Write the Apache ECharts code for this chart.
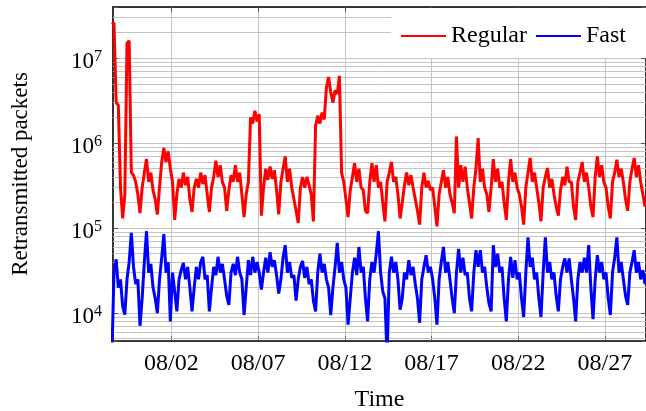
<!DOCTYPE html>
<html>
<head>
<meta charset="utf-8">
<script src="https://cdn.jsdelivr.net/npm/echarts@6/dist/echarts.min.js"></script>
<style>
html, body { margin: 0; padding: 0; background: #fff; }
#chart { width: 646px; height: 411px; }
</style>
</head>
<body>
<div id="chart"></div>
<script>
// samples every 3 hours, first one 07/29 13:30
var startTime = Date.UTC(2019, 6, 29, 13, 30)
var stepMs = 3 * 3600 * 1000

// Regular retransmissions (one row per day, 8 samples)
var regular = [
  2.5e7, 2.6e7, 3.0e6, 2.8e6,
  3.0e5, 1.3e5, 2.5e5, 1.5e7, 1.6e7, 4.5e5, 4.2e5, 3.5e5,
  2.5e5, 1.5e5, 3.0e5, 4.5e5, 6.5e5, 3.5e5, 4.5e5, 2.8e5,
  2.2e5, 1.45e5, 3.0e5, 6.0e5, 8.8e5, 6.0e5, 8.0e5, 5.0e5,
  3.5e5, 1.25e5, 2.5e5, 3.8e5, 3.0e5, 4.5e5, 3.2e5, 4.0e5,
  2.2e5, 1.55e5, 3.0e5, 3.8e5, 3.0e5, 4.5e5, 3.3e5, 4.2e5,
  2.5e5, 1.55e5, 3.0e5, 4.0e5, 6.2e5, 4.0e5, 5.5e5, 3.5e5,
  3.0e5, 1.6e5, 2.8e5, 4.2e5, 3.5e5, 5.5e5, 3.5e5, 4.5e5,
  2.5e5, 1.35e5, 2.5e5, 3.5e5, 2.0e6, 1.7e6, 2.4e6, 1.8e6,
  2.2e6, 1.4e5, 3.0e5, 5.0e5, 3.7e5, 5.3e5, 3.8e5, 4.8e5,
  2.8e5, 1.45e5, 3.5e5, 5.0e5, 7.0e5, 3.5e5, 5.0e5, 3.0e5,
  2.2e5, 1.6e5, 1.15e5, 3.0e5, 4.0e5, 3.0e5, 4.0e5, 3.2e5,
  2.5e5, 1.2e5, 1.6e6, 2.1e6, 1.7e6, 2.3e6, 1.9e6, 4.5e6,
  6.0e6, 4.0e6, 3.0e6, 4.2e6, 3.8e6, 6.2e6, 4.5e5, 3.5e5,
  2.2e5, 1.35e5, 2.8e5, 4.0e5, 5.8e5, 3.5e5, 5.0e5, 3.0e5,
  2.8e5, 1.6e5, 1.5e5, 3.5e5, 5.8e5, 3.5e5, 5.5e5, 3.0e5,
  3.5e5, 2.0e5, 1.2e5, 3.5e5, 4.5e5, 6.0e5, 3.5e5, 4.0e5,
  2.5e5, 1.3e5, 2.0e5, 3.2e5, 4.5e5, 3.2e5, 4.2e5, 3.0e5,
  2.2e5, 1.6e5, 1.1e5, 3.0e5, 4.5e5, 3.0e5, 3.6e5, 2.8e5,
  3.0e5, 1.8e5, 1.05e5, 2.5e5, 3.5e5, 4.8e5, 3.0e5, 4.0e5,
  2.5e5, 2.0e5, 1.5e5, 1.2e6, 3.0e5, 5.5e5, 3.5e5, 5.3e5,
  3.0e5, 2.0e5, 1.3e5, 3.0e5, 5.0e5, 1.15e6, 3.5e5, 5.0e5,
  3.0e5, 2.5e5, 1.55e5, 3.0e5, 6.5e5, 3.5e5, 5.0e5, 3.0e5,
  3.5e5, 2.0e5, 1.25e5, 3.5e5, 6.5e5, 3.5e5, 4.5e5, 3.0e5,
  2.5e5, 1.8e5, 1.1e5, 3.0e5, 4.5e5, 6.7e5, 3.5e5, 4.5e5,
  3.0e5, 2.0e5, 1.2e5, 3.0e5, 4.0e5, 5.1e5, 3.0e5, 3.8e5,
  2.5e5, 1.8e5, 1.4e5, 2.8e5, 4.0e5, 3.2e5, 5.3e5, 3.5e5,
  3.5e5, 1.8e5, 1.25e5, 3.5e5, 4.5e5, 6.0e5, 3.5e5, 4.5e5,
  3.0e5, 1.8e5, 1.35e5, 4.0e5, 7.0e5, 4.0e5, 5.5e5, 3.5e5,
  3.0e5, 1.8e5, 1.3e5, 3.5e5, 4.5e5, 6.4e5, 4.0e5, 5.0e5,
  3.5e5, 2.2e5, 1.6e5, 3.5e5, 5.0e5, 6.7e5, 4.0e5, 5.5e5,
  3.5e5, 2.5e5, 1.8e5, 2.0e5
]

// Fast retransmissions
var fast = [
  3e3, 3.0e4, 4.3e4, 2.0e4,
  2.5e4, 1.2e4, 9.6e3, 2.5e4, 4.0e4, 8.8e4, 3.5e4, 2.2e4,
  2.5e4, 7.1e3, 1.5e4, 4.0e4, 9.2e4, 3.0e4, 3.8e4, 2.0e4,
  1.5e4, 1.0e4, 2.5e4, 4.5e4, 8.5e4, 3.0e4, 4.0e4, 8.0e3,
  3.0e4, 1.8e4, 1.05e4, 2.5e4, 3.2e4, 3.9e4, 2.5e4, 3.5e4,
  2.0e4, 1.05e4, 2.0e4, 3.5e4, 2.5e4, 4.0e4, 4.6e4, 2.5e4,
  2.8e4, 1.05e4, 2.0e4, 3.5e4, 2.8e4, 4.6e4, 3.0e4, 3.8e4,
  2.5e4, 1.6e4, 1.25e4, 3.0e4, 3.8e4, 2.8e4, 4.6e4, 3.0e4,
  2.5e4, 9.5e3, 2.0e4, 4.2e4, 2.8e4, 4.6e4, 3.0e4, 4.0e4,
  3.0e4, 1.9e4, 3.0e4, 4.5e4, 3.0e4, 5.2e4, 3.5e4, 4.2e4,
  2.8e4, 1.7e4, 2.5e4, 4.5e4, 6.3e4, 3.0e4, 4.0e4, 2.6e4,
  2.8e4, 1.4e4, 2.5e4, 3.5e4, 4.1e4, 2.6e4, 3.5e4, 2.2e4,
  2.5e4, 1.4e4, 1.05e4, 3.0e4, 5.0e4, 3.0e4, 3.8e4, 2.5e4,
  2.0e4, 9.5e3, 2.0e4, 3.5e4, 6.7e4, 3.0e4, 4.0e4, 2.5e4,
  2.0e4, 7.3e3, 1.5e4, 3.0e4, 4.5e4, 2.8e4, 6.0e4, 3.0e4,
  3.5e4, 1.5e4, 8.0e3, 2.5e4, 4.0e4, 3.0e4, 5.0e4, 9.2e4,
  3.0e4, 1.8e4, 1.5e4, 3e3, 3.0e4, 4.6e4, 3.0e4, 4.0e4,
  2.5e4, 1.1e4, 1.5e4, 3.0e4, 2.5e4, 4.2e4, 2.8e4, 3.5e4,
  2.2e4, 1.5e4, 7.7e3, 2.5e4, 3.5e4, 4.8e4, 3.0e4, 3.5e4,
  2.5e4, 1.5e4, 7.3e3, 2.5e4, 4.0e4, 6.0e4, 3.0e4, 4.0e4,
  2.5e4, 1.5e4, 1.0e4, 3.0e4, 5.7e4, 3.0e4, 4.5e4, 2.8e4,
  3.0e4, 1.5e4, 1.05e4, 3.0e4, 5.5e4, 3.5e4, 5.5e4, 3.0e4,
  3.5e4, 2.0e4, 1.3e4, 1.05e4, 6.3e4, 3.5e4, 5.0e4, 3.0e4,
  3.5e4, 1.5e4, 8.0e3, 2.5e4, 4.6e4, 2.6e4, 4.2e4, 2.5e4,
  3.0e4, 1.5e4, 9.0e3, 3.0e4, 7.8e4, 3.5e4, 4.5e4, 2.5e4,
  3.0e4, 1.5e4, 9.0e3, 3.0e4, 7.8e4, 3.0e4, 4.0e4, 2.5e4,
  3.0e4, 1.6e4, 1.05e4, 2.5e4, 3.5e4, 4.4e4, 3.0e4, 4.4e4,
  2.5e4, 1.5e4, 8.0e3, 2.5e4, 4.0e4, 3.0e4, 4.5e4, 3.0e4,
  6.3e4, 2.0e4, 8.5e3, 2.5e4, 4.8e4, 3.0e4, 4.0e4, 2.5e4,
  3.0e4, 1.5e4, 9.5e3, 3.0e4, 4.5e4, 7.8e4, 3.0e4, 4.0e4,
  2.5e4, 1.6e4, 1.25e4, 3.0e4, 4.0e4, 5.5e4, 3.0e4, 4.0e4,
  2.5e4, 3.2e4, 2.2e4, 2.5e4
]

var tickDays = [2, 7, 12, 17, 22, 27]   // August
var minorGrid = [
  5e3, 6e3, 7e3, 8e3, 9e3,
  2e4, 3e4, 4e4, 5e4, 6e4, 7e4, 8e4, 9e4,
  2e5, 3e5, 4e5, 5e5, 6e5, 7e5, 8e5, 9e5,
  2e6, 3e6, 4e6, 5e6, 6e6, 7e6, 8e6, 9e6,
  2e7, 3e7
]

var xMin = Date.UTC(2019, 6, 29, 15, 7)
var xMax = Date.UTC(2019, 7, 29, 8, 50)
var yMin = 4700
var yMax = 4e7

var font = 'Liberation Serif'
var gridColor = '#c4c4c4'

function toPoints(list) {
  return list.map(function (v, i) { return [startTime + i * stepMs, v] })
}

var tickValues = tickDays.map(function (d) { return Date.UTC(2019, 7, d) })

function pad(n) { return (n < 10 ? '0' : '') + n }

var chart = echarts.init(document.getElementById('chart'))

var baseX = {
  type: 'value',
  min: xMin,
  max: xMax,
  axisLine: { lineStyle: { color: '#000', width: 1.6 } },
  axisTick: { inside: true, length: 5, customValues: tickValues, lineStyle: { color: '#555' } },
  splitLine: { show: false }
}

var baseY = {
  type: 'log',
  logBase: 10,
  min: yMin,
  max: yMax,
  axisLine: { show: true, lineStyle: { color: '#000', width: 1.6 } },
  axisTick: { show: true, inside: true, length: 5, lineStyle: { color: '#555' } },
  splitLine: { show: false }
}

chart.setOption({
  animation: false,
  grid: { left: 113, right: 0, top: 7, bottom: 70, containLabel: false, outerBoundsMode: 'none' },
  legend: {
    data: ['Regular', 'Fast'],
    right: 0,
    top: 8,
    z: 20,
    padding: [16, 20, 10, 10],
    backgroundColor: '#fff',
    icon: 'rect',
    itemWidth: 45,
    itemHeight: 2,
    itemGap: 9,
    textStyle: { fontFamily: font, fontSize: 24, color: '#000' }
  },
  xAxis: [
    Object.assign({}, baseX, {
      position: 'bottom',
      name: 'Time',
      nameLocation: 'middle',
      nameGap: 47,
      nameTextStyle: { fontFamily: font, fontSize: 24, color: '#000' },
      axisLabel: {
        customValues: tickValues,
        margin: 11,
        fontFamily: font,
        fontSize: 24,
        color: '#000',
        formatter: function (v) {
          var d = new Date(v)
          return pad(d.getUTCMonth() + 1) + '/' + pad(d.getUTCDate())
        }
      },
      splitLine: { show: true, lineStyle: { color: gridColor, width: 1 } }
    }),
    Object.assign({}, baseX, { position: 'top', axisLabel: { show: false } })
  ],
  yAxis: [
    Object.assign({}, baseY, {
      position: 'left',
      name: 'Retransmitted packets',
      nameLocation: 'middle',
      nameGap: 81,
      nameRotate: 90,
      nameTextStyle: { fontFamily: font, fontSize: 23, color: '#000' },
      axisLabel: {
        margin: 11,
        padding: [8, 0, 0, 0],
        formatter: function (v) {
          var e = Math.log10(v)
          var r = Math.round(e)
          if (Math.abs(e - r) > 1e-3) return ''
          return '{b|10}{s|' + r + '}'
        },
        rich: {
          b: { fontFamily: font, fontSize: 23, color: '#000', lineHeight: 26 },
          s: { fontFamily: font, fontSize: 16, color: '#000', lineHeight: 16, verticalAlign: 'top' }
        }
      },
      splitLine: { show: true, lineStyle: { color: gridColor, width: 1 } }
    }),
    Object.assign({}, baseY, { position: 'right', axisLabel: { show: false } })
  ],
  series: [
    {
      name: 'minor-grid',
      type: 'line',
      data: [],
      silent: true,
      z: 1,
      markLine: {
        z: 1,
        silent: true,
        symbol: ['none', 'none'],
        label: { show: false },
        lineStyle: { color: gridColor, type: 'solid', width: 1 },
        data: minorGrid.map(function (v) { return { yAxis: v } })
      }
    },
    {
      name: 'Regular',
      type: 'line',
      data: toPoints(regular),
      showSymbol: false,
      symbol: 'none',
      color: '#ff0000',
      lineStyle: { color: '#ff0000', width: 3 },
      z: 3
    },
    {
      name: 'Fast',
      type: 'line',
      data: toPoints(fast),
      showSymbol: false,
      symbol: 'none',
      color: '#0000ff',
      lineStyle: { color: '#0000ff', width: 3 },
      z: 3
    }
  ]
})
</script>
</body>
</html>
